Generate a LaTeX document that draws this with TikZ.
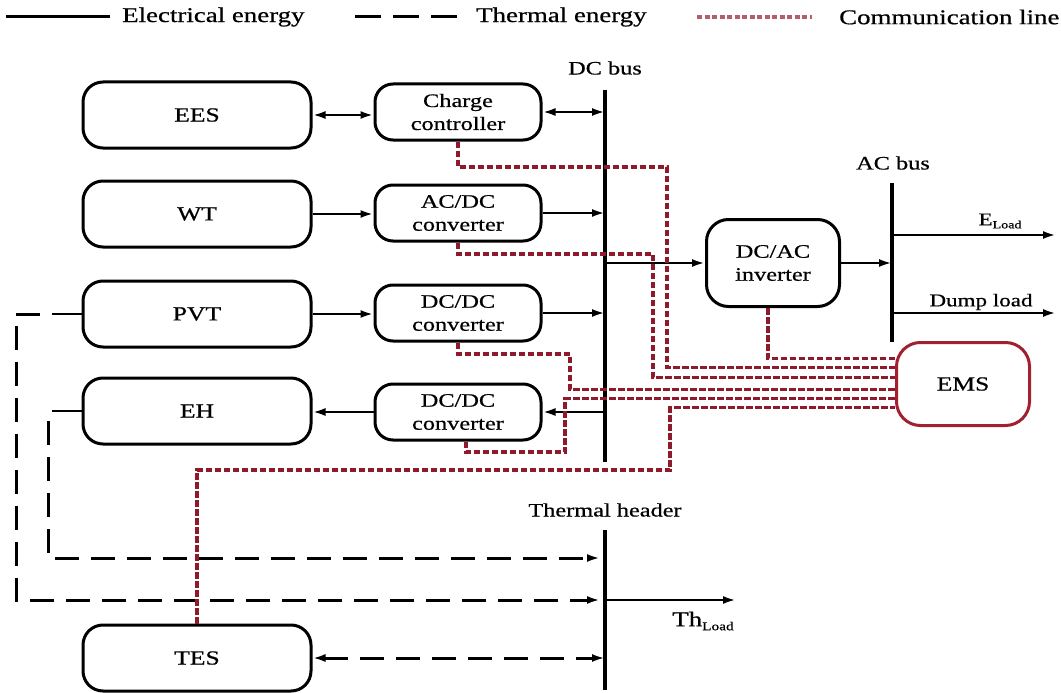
\documentclass[tikz,border=0pt]{standalone}
\usepackage{fontspec}
\setmainfont[FakeStretch=1.28,FakeBold=0.6]{Liberation Serif}
\usetikzlibrary{arrows.meta}
\definecolor{commred}{HTML}{8E1A2C}
\definecolor{emsred}{HTML}{A3202F}
\begin{document}
\begin{tikzpicture}[x=1pt,y=-1pt,
  tip/.tip={Latex[length=13pt,width=8pt]},
  bigbox/.style={draw,line width=3pt,rounded corners=20pt,minimum width=228pt,minimum height=66pt,inner sep=0pt,font=\fontsize{20}{24}\selectfont,align=center},
  midbox/.style={draw,line width=3pt,rounded corners=18pt,minimum width=166pt,minimum height=56pt,inner sep=0pt,font=\fontsize{19}{23}\selectfont,align=center},
  elec/.style={line width=2.6pt},
  bus/.style={line width=3.6pt},
  therm/.style={line width=3pt,dash pattern=on 24pt off 12pt},
  comm/.style={draw=commred,line width=3.2pt,dash pattern=on 6.5pt off 2.5pt},
  lbl/.style={font=\fontsize{19}{23}\selectfont,inner sep=0pt},
  leg/.style={font=\fontsize{21}{25}\selectfont,inner sep=0pt,anchor=west}]
\useasboundingbox (0,0) rectangle (1061,693);

% legend
\coordinate (l1a) at (6,17); \coordinate (l1b) at (110,17);
\coordinate (l2a) at (355,17); \coordinate (l2b) at (468,17);
\coordinate (l3a) at (697,17); \coordinate (l3b) at (812,17);
\draw[elec,line width=3pt] (l1a) -- (l1b);
\node[leg] (t1) at (122,17) {Electrical energy};
\draw[therm,dash pattern=on 26pt off 12pt] (l2a) -- (l2b);
\node[leg] (t2) at (476,17) {Thermal energy};
\draw[comm,draw=commred!70,dash pattern=on 5pt off 2.5pt] (l3a) -- (l3b);
\node[leg] (t3) at (839,17) {Communication line};

% boxes
\node[bigbox] (ees) at (197,115) {EES};
\node[bigbox] (wt)  at (197,214) {WT};
\node[bigbox] (pvt) at (197,314) {PVT};
\node[bigbox] (eh)  at (197,411) {EH};
\node[bigbox] (tes) at (197,658) {TES};

\node[midbox] (cc)   at (458,112) {Charge\\controller};
\node[midbox] (acdc) at (458,213) {AC/DC\\converter};
\node[midbox] (dd1)  at (458,313) {DC/DC\\converter};
\node[midbox] (dd2)  at (458,412) {DC/DC\\converter};

\node[draw,line width=3pt,rounded corners=22pt,minimum width=133pt,minimum height=87pt,inner sep=0pt,font=\fontsize{19}{23}\selectfont,align=center] (inv) at (773,263) {DC/AC\\inverter};
\node[draw=emsred,line width=3pt,rounded corners=24pt,minimum width=133pt,minimum height=83pt,inner sep=0pt,font=\fontsize{20}{24}\selectfont] (ems) at (963,384) {EMS};

% buses
\coordinate (dctop) at (605,90);  \coordinate (dcbot) at (605,462);
\coordinate (actop) at (892,183); \coordinate (acbot) at (892,342);
\coordinate (thtop) at (605,530); \coordinate (thbot) at (605,690);
\draw[bus] (dctop) -- (dcbot);
\draw[bus] (actop) -- (acbot);
\draw[bus] (thtop) -- (thbot);
\node[lbl] (dclbl) at (605,68) {DC bus};
\node[lbl] (aclbl) at (893,163) {AC bus};
\node[lbl] (thlbl) at (605,510) {Thermal header};

% electrical connectors
\draw[elec,{tip}-{tip}] (ees.east) -- (ees.east -| cc.west);
\draw[elec,{tip}-{tip}] (cc.east) -- (cc.east -| dctop);
\draw[elec,-{tip}] (wt.east) -- (wt.east -| acdc.west);
\draw[elec,-{tip}] (acdc.east) -- (acdc.east -| dctop);
\draw[elec,-{tip}] (pvt.east) -- (pvt.east -| dd1.west);
\draw[elec,-{tip}] (dd1.east) -- (dd1.east -| dctop);
\draw[elec,-{tip}] (dd2.east -| dctop) -- (dd2.east);
\draw[elec,-{tip}] (dd2.west) -- (dd2.west -| eh.east);
\draw[elec,-{tip}] (inv.west -| dctop) -- (inv.west);
\draw[elec,-{tip}] (inv.east) -- (inv.east -| actop);
\coordinate (eload) at (1056,235);
\coordinate (dump) at (1056,313);
\draw[elec,-{tip}] (eload -| actop) -- (eload);
\draw[elec,-{tip}] (dump -| actop) -- (dump);
\node[inner sep=0pt,font=\fontsize{18}{20}\selectfont] (elbl) at (1000,221) {E{\fontsize{11}{12}\selectfont\raisebox{-3pt}{Load}}};
\node[lbl,font=\fontsize{18}{20}\selectfont] (dlbl) at (981,302) {Dump load};
\coordinate (thload) at (736,600);
\draw[elec,-{tip}] (thload -| thtop) -- (thload);
\node[inner sep=0pt,font=\fontsize{21}{24}\selectfont] (thl) at (703,621) {Th{\fontsize{12}{12}\selectfont\raisebox{-4pt}{Load}}};

% thermal connectors
\coordinate (pvtl) at (52,314);
\coordinate (ehl) at (52,411);
\draw[elec] (pvt.west) -- (pvtl);
\draw[elec] (eh.west) -- (ehl);
\draw[therm,-{tip}] ([xshift=-12pt]pvtl) -| (16,600) -- (600,600);
\draw[therm,-{tip}] ([xshift=-4pt,yshift=-10pt]ehl) -- (48,558) -- (600,558);
\draw[therm,{tip}-{tip}] (tes.east) -- (tes.east -| thtop);

% communication lines
\draw[comm] (cc.south) |- (667,167) |- ([yshift=16.5pt]ems.west);
\draw[comm] (acdc.south) |- (653,254) |- ([yshift=6.5pt]ems.west);
\draw[comm] ([xshift=-5pt]inv.south) |- ([yshift=25.5pt]ems.west);
\draw[comm] (dd1.south) |- (570,354) |- ([yshift=-5.5pt]ems.west);
\draw[comm] ([xshift=8pt]dd2.south) |- (565,452) |- ([yshift=-14.5pt]ems.west);
\draw[comm] (tes.north) |- (670,470) |- ([yshift=-23.5pt]ems.west);
\end{tikzpicture}
\end{document}
